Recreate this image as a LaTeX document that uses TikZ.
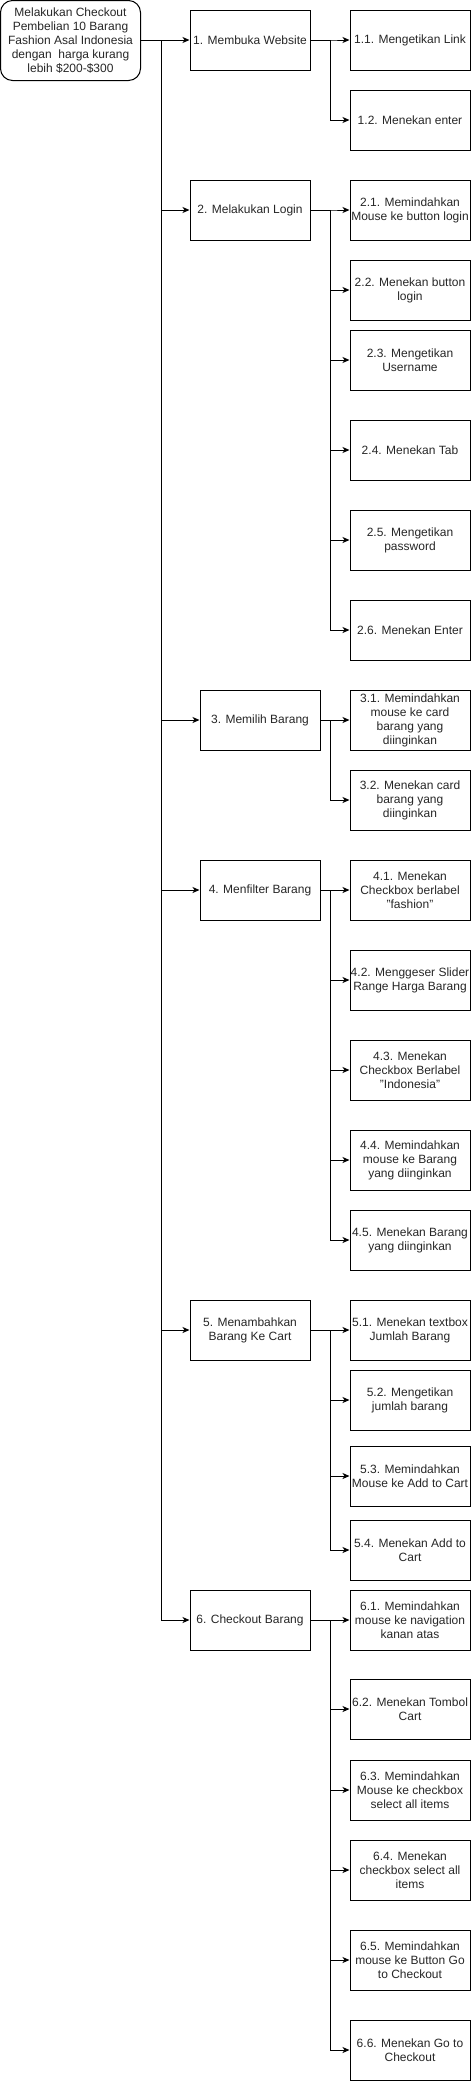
\documentclass[tikz,border=0pt]{standalone}
\usepackage{fontspec}
\setmainfont{Liberation Sans}
\usetikzlibrary{arrows.meta}
\definecolor{txt}{HTML}{262626}

\begin{document}
\begin{tikzpicture}[x=1pt,y=-1pt,
    every node/.style={font=\fontsize{12}{14}\selectfont,text=txt,align=center,inner sep=0pt},
    stepbox/.style={draw,line width=1pt,minimum width=120pt,minimum height=60pt},
    rootbox/.style={stepbox,rounded corners=12pt,minimum width=140pt,minimum height=80pt},
    arr/.style={line width=1pt,-{Stealth[length=7pt,width=6pt,inset=2pt]}}]
    \useasboundingbox (0,0) rectangle (471,2081);
    \node[rootbox] (root) at (70.5,40.5) {Melakukan Checkout\\Pembelian 10 Barang\\Fashion Asal Indonesia\\dengan\ \ harga kurang\\lebih \$200-\$300};
    \node[stepbox] (s1) at (250,40) {1. Membuka Website};
    \node[stepbox] (s2) at (250,210) {2. Melakukan Login};
    \node[stepbox] (s3) at (260,720) {3. Memilih Barang};
    \node[stepbox] (s4) at (260,890) {4. Menfilter Barang};
    \node[stepbox] (s5) at (250,1330) {5. Menambahkan\\Barang Ke Cart};
    \node[stepbox] (s6) at (250,1620) {6. Checkout Barang};
    \node[stepbox] (s11) at (410,40) {1.1. Mengetikan Link};
    \node[stepbox] (s12) at (410,120) {1.2. Menekan enter};
    \node[stepbox] (s21) at (410,210) {2.1. Memindahkan\\Mouse ke button login};
    \node[stepbox] (s22) at (410,290) {2.2. Menekan button\\login};
    \node[stepbox] (s23) at (410,360) {2.3. Mengetikan\\Username};
    \node[stepbox] (s24) at (410,450) {2.4. Menekan Tab};
    \node[stepbox] (s25) at (410,540) {2.5. Mengetikan\\password};
    \node[stepbox] (s26) at (410,630) {2.6. Menekan Enter};
    \node[stepbox] (s31) at (410,720) {3.1. Memindahkan\\mouse ke card\\barang yang\\diinginkan};
    \node[stepbox] (s32) at (410,800) {3.2. Menekan card\\barang yang\\diinginkan};
    \node[stepbox] (s41) at (410,890) {4.1. Menekan\\Checkbox berlabel\\"fashion"};
    \node[stepbox] (s42) at (410,980) {4.2. Menggeser Slider\\Range Harga Barang};
    \node[stepbox] (s43) at (410,1070) {4.3. Menekan\\Checkbox Berlabel\\"Indonesia"};
    \node[stepbox] (s44) at (410,1160) {4.4. Memindahkan\\mouse ke Barang\\yang diinginkan};
    \node[stepbox] (s45) at (410,1240) {4.5. Menekan Barang\\yang diinginkan};
    \node[stepbox] (s51) at (410,1330) {5.1. Menekan textbox\\Jumlah Barang};
    \node[stepbox] (s52) at (410,1400) {5.2. Mengetikan\\jumlah barang};
    \node[stepbox] (s53) at (410,1476) {5.3. Memindahkan\\Mouse ke Add to Cart};
    \node[stepbox] (s54) at (410,1550) {5.4. Menekan Add to\\Cart};
    \node[stepbox] (s61) at (410,1620) {6.1. Memindahkan\\mouse ke navigation\\kanan atas};
    \node[stepbox] (s62) at (410,1709) {6.2. Menekan Tombol\\Cart};
    \node[stepbox] (s63) at (410,1790) {6.3. Memindahkan\\Mouse ke checkbox\\select all items};
    \node[stepbox] (s64) at (410,1870) {6.4. Menekan\\checkbox select all\\items};
    \node[stepbox] (s65) at (410,1960) {6.5. Memindahkan\\mouse ke Button Go\\to Checkout};
    \node[stepbox] (s66) at (410,2050) {6.6. Menekan Go to\\Checkout};
    \coordinate (trunk) at (161,0);
    \coordinate (branch) at (330,0);
    \foreach \i in {1,...,6}
        \draw[arr] (root.east) -- (root.east -| trunk) |- (s\i.west);
    \foreach \p/\n in {1/2,2/6,3/2,4/5,5/4,6/6}
        \foreach \c in {1,...,\n}
            \draw[arr] (s\p.east) -- (s\p.east -| branch) |- (s\p\c.west);
\end{tikzpicture}
\end{document}
